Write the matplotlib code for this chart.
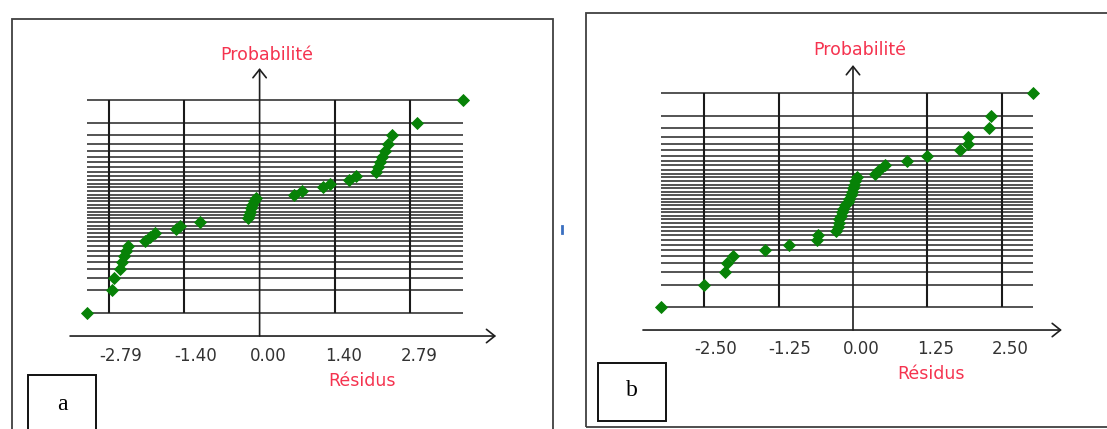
import math
import numpy as np
import matplotlib
matplotlib.use("Agg")
import matplotlib.pyplot as plt
from matplotlib.patches import Rectangle
from matplotlib.lines import Line2D

# niveaux de probabilité (droite de Henry, 36 résidus)
proba = [0.0139, 0.0417, 0.0694, 0.0972, 0.1250, 0.1528, 0.1806, 0.2083, 0.2361,
         0.2639, 0.2917, 0.3194, 0.3472, 0.3750, 0.4028, 0.4306, 0.4583, 0.4861,
         0.5139, 0.5417, 0.5694, 0.5972, 0.6250, 0.6528, 0.6806, 0.7083, 0.7361,
         0.7639, 0.7917, 0.8194, 0.8472, 0.8750, 0.9028, 0.9306, 0.9583, 0.9861]

residus_a = [-3.19, -2.73, -2.69, -2.59, -2.55, -2.52, -2.48, -2.44, -2.12, -2.03,
             -1.94, -1.54, -1.47, -1.10, -0.22, -0.20, -0.18, -0.16, -0.14, -0.11,
             -0.07, 0.64, 0.78, 1.18, 1.30, 1.66, 1.79, 2.15, 2.19, 2.23, 2.27,
             2.32, 2.38, 2.45, 2.91, 3.77]
residus_b = [-3.22, -2.50, -2.15, -2.12, -2.01, -1.48, -1.07, -0.60, -0.58, -0.28,
             -0.26, -0.24, -0.23, -0.21, -0.185, -0.16, -0.13, -0.09, -0.07, -0.04,
             -0.02, 0.00, 0.02, 0.04, 0.06, 0.37, 0.44, 0.54, 0.90, 1.25, 1.80,
             1.94, 1.94, 2.29, 2.32, 3.03]

ticks_a = [-2.79, -1.40, 0.00, 1.40, 2.79]
ticks_b = [-2.50, -1.25, 0.00, 1.25, 2.50]

W, H = 1107, 429
ROUGE = "#f5334f"
VERT = "#078207"

_erf = np.vectorize(math.erf, otypes=[float])


def norm_cdf(z):
    return 0.5 * (1 + _erf(np.asarray(z, dtype=float) / math.sqrt(2)))


def norm_ppf(p):
    p = np.clip(np.asarray(p, dtype=float), 1e-12, 1 - 1e-12)
    lo = np.full(p.shape, -9.0)
    hi = np.full(p.shape, 9.0)
    for _ in range(45):
        mid = (lo + hi) / 2
        below = norm_cdf(mid) < p
        lo = np.where(below, mid, lo)
        hi = np.where(below, hi, mid)
    return (lo + hi) / 2


def fx(x):
    return x / W


def fy(y):
    return 1 - y / H


fig = plt.figure(figsize=(W / 100, H / 100), dpi=100)


def panneau(resid, ticks, x0, kx, yc, ky, xlim, x_span, z_axe, z_haut, lab_off):
    top, bot = 55, 340
    left = x0 + xlim[0] * kx
    ax = fig.add_axes([fx(left), fy(bot), (xlim[1] - xlim[0]) * kx / W, (bot - top) / H])
    ax.set_yscale("function", functions=(norm_ppf, norm_cdf))
    ax.set_xlim(xlim)
    ax.set_ylim(float(norm_cdf((yc - bot) / ky)), float(norm_cdf((yc - top) / ky)))
    ax.set_axis_off()

    ax.hlines(proba, min(resid), max(resid), color="#454545", lw=1.3, zorder=1)
    ax.vlines([t for t in ticks if t != 0], proba[0], proba[-1], color="#1a1a1a", lw=1.5, zorder=2)
    ax.plot(resid, proba, "D", color=VERT, ms=6.0, mec=VERT, mew=0.6, zorder=4)

    p_axe = float(norm_cdf(z_axe))
    fleche = dict(arrowstyle="->,head_length=0.5,head_width=0.4", lw=1.2, color="#1e1e1e",
                  shrinkA=0, shrinkB=0, mutation_scale=12)
    ax.annotate("", xy=(x_span[1], p_axe), xytext=(x_span[0], p_axe), arrowprops=fleche, zorder=3)
    ax.annotate("", xy=(0, float(norm_cdf(z_haut))), xytext=(0, p_axe), arrowprops=fleche, zorder=3)

    for t in ticks:
        ax.annotate(f"{t:.2f}", xy=(t, p_axe), xytext=(-7.2, -lab_off), textcoords="offset points",
                    ha="left", va="center", fontsize=12, color="#333333")
    return ax


panneau(residus_a, ticks_a, 259.6, 54.0, 206.5, 48.4, (-3.6, 4.4), (-3.51, 4.38), -2.676, 2.86, 14.4)
panneau(residus_b, ticks_b, 853.0, 59.5, 200.3, 48.64, (-3.7, 3.7), (-3.53, 3.51), -2.667, 2.78, 13.7)

fig.text(fx(267), fy(55), "Probabilité", color=ROUGE, fontsize=12.5, ha="center", va="center")
fig.text(fx(362), fy(381), "Résidus", color=ROUGE, fontsize=12.5, ha="center", va="center")
fig.text(fx(860), fy(50), "Probabilité", color=ROUGE, fontsize=12.5, ha="center", va="center")
fig.text(fx(931), fy(374), "Résidus", color=ROUGE, fontsize=12.5, ha="center", va="center")


def cadre(x1, y1, x2, y2, lw=1.3, color="#404040"):
    fig.add_artist(Rectangle((fx(x1), fy(y2)), (x2 - x1) / W, (y2 - y1) / H,
                             transform=fig.transFigure, fill=False, ec=color, lw=lw))


cadre(12, 19, 553, 440)
cadre(586, 13, 1115, 427)
cadre(28, 375, 96, 440, lw=1.4, color="#111111")
cadre(598, 363, 666, 421, lw=1.4, color="#111111")
fig.text(fx(62), fy(405), "a", family="Liberation Serif", fontsize=17, ha="center", va="center")
fig.text(fx(632), fy(391), "b", family="Liberation Serif", fontsize=17, ha="center", va="center")

fig.add_artist(Line2D([fx(562), fx(562)], [fy(226), fy(233)], color="#3a6fc0", lw=2))

fig.savefig("out.png", dpi=100)
